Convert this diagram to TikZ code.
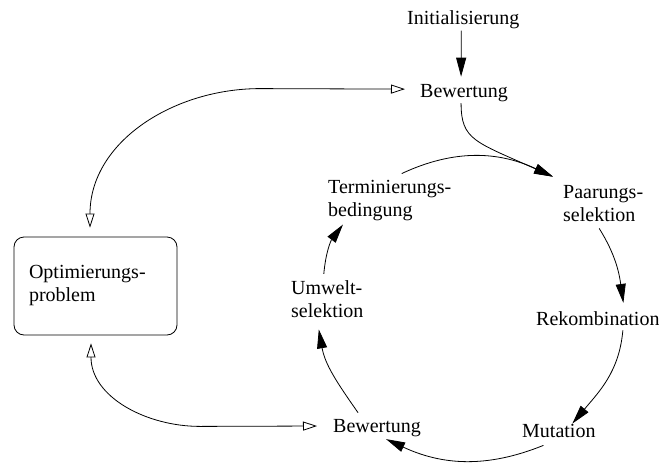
\documentclass[tikz,border=0pt]{standalone}
\usepackage{fontspec}
\setmainfont{Liberation Serif}
\usetikzlibrary{arrows.meta,calc}
\begin{document}
\begin{tikzpicture}[x=1pt,y=-1pt,
  lbl/.style={inner sep=0pt, anchor=base west, align=left, font=\fontsize{20}{23}\selectfont},
  flow/.style={line width=0.8pt, -{Triangle[length=19pt,width=10pt]}},
  link/.style={line width=0.8pt, {Triangle[open,length=14pt,width=9pt]}-{Triangle[open,length=14pt,width=9pt]}},
  problembox/.style={draw, line width=0.8pt, rounded corners=10pt, minimum width=163pt, minimum height=98pt,
    text width=133pt, inner xsep=15pt, align=left, font=\fontsize{20}{23}\selectfont}]
\useasboundingbox (0,0) rectangle (659,464);

% labels (multi-line labels are placed by the baseline of their last line)
\node[lbl] (init) at (407,24) {Initialisierung};
\node[lbl] (bewA) at (420,97) {Bewertung};
\node[problembox] (opt) at (95.5,286) {Optimierungs-\\problem};
\node[lbl] (paar) at (563,221) {Paarungs-\\selektion};
\node[lbl] (rek)  at (536,325) {Rekombination};
\node[lbl] (mut)  at (522,437) {Mutation};
\node[lbl] (bewB) at (333,432) {Bewertung};
\node[lbl] (umw)  at (291,317) {Umwelt-\\selektion};
\node[lbl] (term) at (328,216) {Terminierungs-\\bedingung};

% start of the loop
\draw[flow] ($(init.south)+(-2,2)$) -- ($(bewA.north)+(-3,-7)$);
\draw[flow] ($(bewA.south)+(-3,1.6)$) .. controls +(0,37) and +(-78,-35) .. ($(paar.north west)+(-10,-8)$);

% links to the optimisation problem
\draw[link] ($(opt.north)+(-5.5,-9)$) to[out=90,in=180] ++(170,-139) -- ($(bewA.west)+(-15,-3.5)$);
\draw[link] ($(opt.south)+(-4.5,8)$) to[out=-90,in=180] ++(109,83) -- ($(bewB.west)+(-16,-1.6)$);

% evolutionary cycle
\draw[flow] ($(term.north)+(12,-6)$) to[out=25,in=155] ($(paar.north west)+(-10,-8)$);
\draw[flow] ($(paar.south)+(-4,7)$) to[out=-58,in=98] ($(rek.north)+(25.5,-8)$);
\draw[flow] ($(rek.south)+(25,5)$) to[out=-95,in=50] ($(mut.north)+(13.5,0)$);
\draw[flow] ($(mut.south)+(-15.5,8)$) to[out=-158,in=-25] ($(bewB.south)+(9,2.6)$);
\draw[flow] ($(bewB.north)+(-19,-6)$) to[out=125,in=-80] ($(umw.south)+(-8.5,12)$);
\draw[flow] ($(umw.north)+(-3.5,-6)$) to[out=85,in=-127] ($(term.south west)+(15,4)$);
\end{tikzpicture}
\end{document}
